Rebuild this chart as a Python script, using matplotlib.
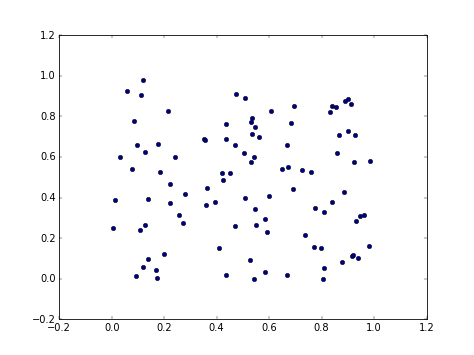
import matplotlib
matplotlib.use("Agg")
import matplotlib.pyplot as plt

x_vals = [0.118, 0.057, 0.113, 0.215, 0.085, 0.096, 0.176, 0.128, 0.032, 0.243,
          0.077, 0.185, 0.222, 0.475, 0.436, 0.352, 0.356, 0.436, 0.468, 0.419,
          0.450, 0.425, 0.508, 0.694, 0.608, 0.533, 0.531, 0.682, 0.545, 0.533,
          0.562, 0.667, 0.503, 0.542, 0.531, 0.650, 0.670, 0.726, 0.902, 0.888,
          0.910, 0.841, 0.855, 0.832, 0.900, 0.865, 0.928, 0.860, 0.924, 0.984,
          0.760, 0.014, 0.137, 0.223, 0.004, 0.126, 0.109, 0.200, 0.137, 0.120,
          0.169, 0.093, 0.174, 0.362, 0.281, 0.361, 0.393, 0.256, 0.270, 0.471,
          0.407, 0.436, 0.689, 0.508, 0.599, 0.546, 0.584, 0.550, 0.591, 0.735,
          0.528, 0.585, 0.543, 0.669, 0.884, 0.838, 0.774, 0.809, 0.961, 0.945,
          0.932, 0.771, 0.799, 0.980, 0.915, 0.921, 0.938, 0.878, 0.809, 0.807]

y_vals = [0.977, 0.926, 0.903, 0.827, 0.778, 0.658, 0.663, 0.623, 0.598, 0.601,
          0.539, 0.524, 0.466, 0.911, 0.760, 0.689, 0.682, 0.687, 0.657, 0.521,
          0.519, 0.487, 0.890, 0.851, 0.824, 0.794, 0.773, 0.768, 0.747, 0.714,
          0.699, 0.661, 0.621, 0.601, 0.574, 0.541, 0.550, 0.534, 0.885, 0.873,
          0.859, 0.849, 0.846, 0.819, 0.728, 0.710, 0.707, 0.621, 0.575, 0.582,
          0.524, 0.386, 0.392, 0.374, 0.249, 0.265, 0.240, 0.124, 0.097, 0.059,
          0.045, 0.015, 0.006, 0.448, 0.420, 0.363, 0.377, 0.313, 0.277, 0.258,
          0.150, 0.018, 0.443, 0.399, 0.406, 0.343, 0.293, 0.265, 0.230, 0.216,
          0.092, 0.036, 0.000, 0.020, 0.425, 0.379, 0.349, 0.329, 0.315, 0.307,
          0.283, 0.158, 0.150, 0.163, 0.113, 0.118, 0.104, 0.081, 0.051, 0.001]

plt.style.use('classic')
fig = plt.figure(figsize=(8, 6), dpi=59.25)
ax = fig.add_subplot(111)
ax.scatter(x_vals, y_vals, s=30, c='navy', edgecolors='black', linewidths=0.5)
ax.set_xlim(-0.2, 1.2)
ax.set_ylim(-0.2, 1.2)
fig.savefig('out.png', dpi=59.25, facecolor='white')
